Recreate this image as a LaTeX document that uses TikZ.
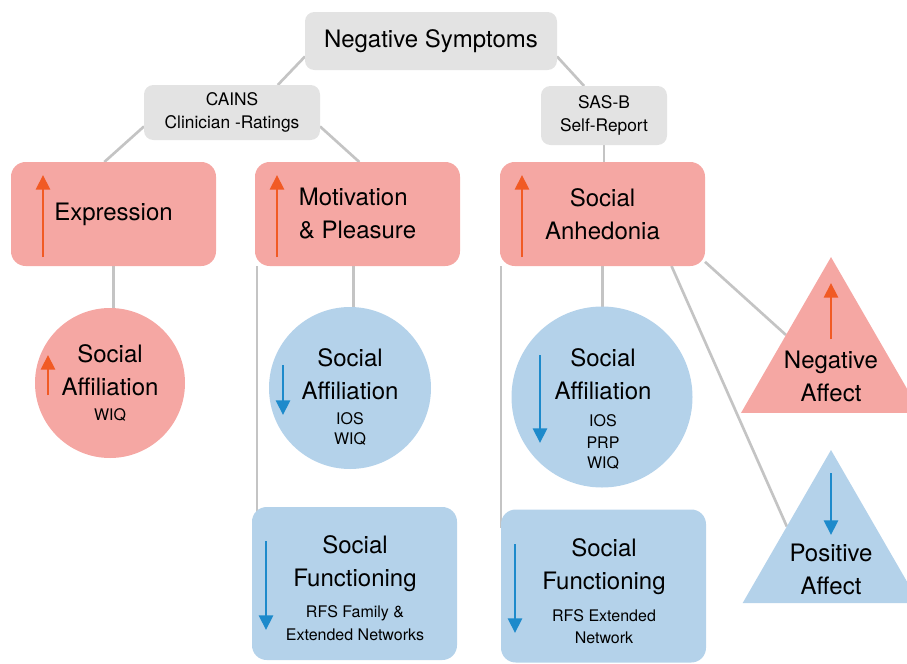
\documentclass[tikz,border=0pt]{standalone}
\usepackage{fontspec}
\setmainfont{TeX Gyre Heros}
\usetikzlibrary{arrows.meta,shapes.geometric,backgrounds,calc}
\definecolor{boxgray}{HTML}{E3E3E3}
\definecolor{pinkfill}{HTML}{F5A7A3}
\definecolor{bluefill}{HTML}{B4D2EA}
\definecolor{upcol}{HTML}{F15A24}
\definecolor{downcol}{HTML}{1D8ACB}
\definecolor{linkgray}{HTML}{C4C4C4}
\newcommand{\smalltxt}{\fontsize{12}{16}\selectfont}

\begin{document}
\begin{tikzpicture}[x=0.75pt,y=-0.75pt,every node/.style={outer sep=0pt,inner sep=0pt},
 bigfont/.style={font=\fontsize{18}{24.75}\selectfont},
 midfont/.style={font=\fontsize{13}{17.5}\selectfont},
 topbox/.style={fill=boxgray,rounded corners=7pt,align=center},
 rbox/.style={rounded corners=11pt,minimum width=153.75pt,minimum height=78pt,
  bigfont,align=center},
 funcbox/.style={rbox,minimum height=114.75pt,fill=bluefill},
 circ/.style={circle,bigfont,align=center},
 tri/.style={regular polygon,regular polygon sides=3},
 link/.style={draw=linkgray,line width=2pt},
 uparr/.style={draw=upcol,line width=2.2pt,-{Triangle[width=10.5pt,length=11pt]}},
 downarr/.style={draw=downcol,line width=2.2pt,-{Triangle[width=10.5pt,length=11pt]}}]

  \useasboundingbox (0,0) rectangle (907,664);

  \node[topbox,bigfont,minimum width=189pt,minimum height=43.5pt] (ns) at (431,41)
   {Negative Symptoms};
  \node[topbox,midfont,minimum width=132pt,minimum height=41.25pt] (cains) at (232,112.5)
   {CAINS\\Clinician -Ratings};
  \node[topbox,midfont,minimum width=94.5pt,minimum height=44.25pt] (sas) at (604,115.5)
   {SAS-B\\Self-Report};

  \node[rbox,fill=pinkfill] (ex) at (113.5,214) {Expression};
  \node[rbox,fill=pinkfill,align=left] (mp) at (357.5,214) {Motivation\\\& Pleasure};
  \node[rbox,fill=pinkfill] (sa) at (602.5,214) {Social\\Anhedonia};

  \node[circ,fill=pinkfill,minimum size=112.5pt] (af1) at (110,383)
   {Social\\Affiliation\\[-5.5pt]{\smalltxt WIQ}};
  \node[circ,fill=bluefill,minimum size=121.5pt] (af2) at (350,388) {};
  \node[bigfont,align=center] (af2text) at (350,397)
   {Social\\Affiliation\\[-6pt]{\smalltxt IOS}\\[-9.75pt]{\smalltxt WIQ}};
  \node[circ,fill=bluefill,minimum size=135.75pt] (af3) at (602,397) {};
  \node[bigfont,align=center] (af3text) at (603,409)
   {Social\\Affiliation\\[-4.5pt]{\smalltxt IOS}\\[-8.5pt]{\smalltxt PRP}\\[-9.5pt]{\smalltxt WIQ}};

  \node[funcbox] (sf1) at (354.5,583.5) {};
  \node[bigfont,align=center] (sf1text) at (355,588)
   {Social\\Functioning\\[-2pt]{\smalltxt RFS Family \&}\\[-7.5pt]{\smalltxt Extended Networks}};
  \node[funcbox] (sf2) at (603.5,586) {};
  \node[bigfont,align=center] (sf2text) at (604,591)
   {Social\\Functioning\\[-1pt]{\smalltxt RFS Extended}\\[-8.25pt]{\smalltxt Network}};

  \node[tri,fill=pinkfill,minimum size=155.9pt] (na) at (831,361) {};
  \node[bigfont,align=center] (natext) at (831,376) {Negative\\Affect};
  \node[tri,fill=bluefill,minimum size=153pt] (pa) at (831,552) {};
  \node[bigfont,align=center] (patext) at (831,569) {Positive\\Affect};

  % arrows inside the shapes
  \foreach \n/\dx/\ya/\yb in {ex/-70.5/43/-39,mp/-80.5/43/-39,sa/-80.5/43/-39,
   af1/-62/12/-28,na/0/-22/-78}
   \draw[uparr] ($(\n)+(\dx,\ya)$) -- ($(\n)+(\dx,\yb)$);
  \foreach \n/\dx/\ya/\yb in {af2/-67/-23/27,af3/-62/-42/46,sf1/-88.5/-42.5/46.5,
   sf2/-88.5/-42/47,pa/0/-79/-17}
   \draw[downarr] ($(\n)+(\dx,\ya)$) -- ($(\n)+(\dx,\yb)$);

  \begin{scope}[on background layer]
   \draw[link] (ns.187) -- (cains.31);
   \draw[link] (ns.-7) -- (sas.124);
   \draw[link] (cains.189) -- (ex.100);
   \draw[link] (cains.-9) -- (mp.88);
   \draw[link] (sas.south) -- (sas.south |- sa.north);
   \draw[link] (ex.south) -- (ex.south |- af1.north);
   \draw[link] ([xshift=-3pt]mp.south) -- ([xshift=-3pt]mp.south |- af2.north);
   \draw[link] (sa.south) -- (sa.south |- af3.north);
   \draw[link] ($(mp.south west)+(2,0)$) -- ($(mp.south west |- sf1.north west)+(2,14)$);
   \draw[link] ($(sa.south west)+(1,0)$) -- ($(sa.south west |- sf2.north west)+(1,18)$);
   \draw[link] (sa.-25) -- (na.side 1);
   \draw[link] (sa.-37) -- (pa.side 1);
  \end{scope}

\end{tikzpicture}
\end{document}
